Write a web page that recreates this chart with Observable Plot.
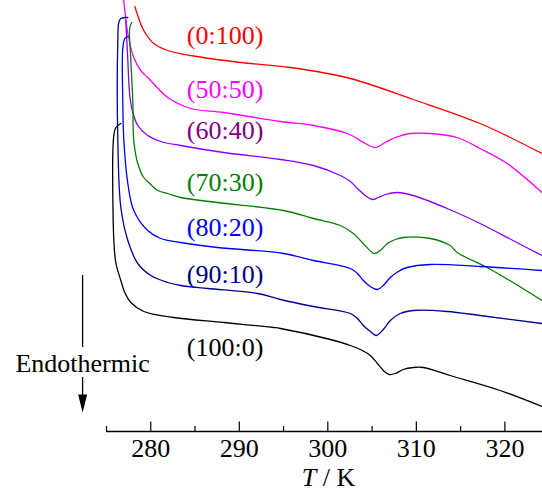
<!DOCTYPE html>
<html><head><meta charset="utf-8">
<script src="https://cdn.jsdelivr.net/npm/d3@7"></script>
<script src="https://cdn.jsdelivr.net/npm/@observablehq/plot@0.6"></script>
<style>body{margin:0;background:#fff;} #chart{width:542px;height:492px;overflow:hidden} #chart svg text{font-family:"Liberation Serif",serif;}</style>
</head><body><div id="chart"></div>
<script>
// DSC traces: [T (K), heat flow (a.u., offset)]
const curve_0_100 = [[278.20,42.5],[278.53,41.6],[279.21,40.1],[280.34,38.8],[281.92,38.1],[284.51,37.6],[290.15,36.9],[295.78,36.4],[302.55,35.3],[309.65,33.2],[317.20,30.8],[324.19,27.8]];
const curve_50_50 = [[276.84,44.1],[277.07,42.1],[277.41,39.8],[278.08,37.4],[278.87,36.1],[279.66,35.4],[281.92,33.4],[284.51,32.3],[288.23,31.9],[294.66,31.0],[298.38,30.6],[302.21,29.8],[303.11,29.4],[304.24,28.8],[305.37,28.4],[306.49,28.9],[307.62,29.4],[309.31,29.8],[311.57,29.8],[314.61,29.4],[317.20,28.3],[320.25,26.8],[324.19,23.9]];
const curve_60_40 = [[277.18,41.1],[277.41,37.1],[277.63,33.6],[277.97,31.9],[278.53,30.6],[279.66,29.6],[281.13,29.0],[283.38,28.6],[288.23,27.9],[294.66,27.2],[298.38,26.6],[301.42,25.6],[302.55,25.0],[303.34,24.3],[304.24,23.6],[305.03,23.2],[305.70,23.4],[306.49,23.7],[307.85,23.9],[309.65,23.6],[313.48,22.3],[317.20,20.8],[320.92,19.1],[324.19,17.6]];
const curve_70_30 = [[277.86,40.9],[277.63,40.4],[277.75,37.1],[277.97,33.1],[278.08,29.1],[278.53,26.8],[279.21,25.4],[280.00,24.7],[280.79,24.1],[281.92,23.8],[283.38,23.4],[287.55,22.9],[295.00,22.1],[298.38,21.3],[301.42,20.6],[302.89,19.8],[303.90,18.9],[305.25,17.8],[305.93,18.1],[306.72,18.8],[307.62,19.2],[308.52,19.4],[311.57,19.3],[313.82,18.6],[314.61,17.9],[317.99,16.4],[320.92,14.9],[324.19,13.1]];
const curve_80_20 = [[277.41,39.5],[277.07,39.3],[276.84,38.3],[276.84,33.1],[276.96,29.1],[277.41,24.8],[278.08,22.1],[279.66,20.1],[281.13,19.3],[283.38,18.9],[287.55,18.4],[295.00,17.8],[298.38,17.1],[302.55,16.3],[303.34,15.8],[304.01,15.1],[304.80,14.5],[305.59,14.2],[306.27,14.6],[307.06,15.4],[307.96,16.0],[308.97,16.4],[311.57,16.7],[317.20,16.5],[324.19,16.1]];
const curve_90_10 = [[277.41,41.4],[276.62,41.3],[276.39,40.9],[276.28,39.1],[276.28,29.1],[276.62,22.4],[277.41,19.1],[278.53,16.8],[280.00,15.6],[281.92,14.9],[283.38,14.6],[286.43,14.3],[292.06,13.8],[294.66,13.2],[298.38,12.5],[302.55,11.8],[303.34,11.3],[304.01,10.6],[304.80,10.0],[305.48,9.6],[306.27,10.2],[307.06,11.1],[308.18,11.8],[309.65,12.1],[313.48,12.0],[317.20,11.6],[324.19,10.8]];
const curve_100_0 = [[276.62,30.8],[276.05,30.4],[275.83,29.6],[275.72,28.1],[275.72,23.1],[275.83,19.1],[276.05,16.9],[276.62,15.1],[277.07,13.9],[277.75,12.9],[279.21,12.0],[282.59,11.4],[288.23,10.9],[293.87,10.4],[294.66,10.3],[300.29,9.2],[302.55,8.6],[303.90,8.1],[304.80,7.6],[305.70,6.7],[306.38,6.0],[306.94,5.7],[307.62,5.8],[308.52,6.2],[309.65,6.4],[310.78,6.4],[313.82,5.6],[319.46,4.1],[324.19,2.5]];

const seriesNames  = ["(0:100)","(50:50)","(60:40)","(70:30)","(80:20)","(90:10)","(100:0)"];
const seriesCurves = [curve_0_100, curve_50_50, curve_60_40, curve_70_30, curve_80_20, curve_90_10, curve_100_0];
const lineColors   = ["#ff0000","#ff00ff","#8a00ff","#008000","#0000ff","#00009a","#000000"];
const labelColors  = ["#ff0000","#ff00ff","#800080","#008000","#0000ff","#000080","#000000"];
const labelT = [288.4,288.4,288.4,288.4,288.4,288.4,288.4];
const labelQ = [39.6,34.2,30.1,24.9,20.4,15.7,8.4];

const majorTicks = [280,290,300,310,320];
const minorTicks = [275,285,295,305,315];

const endoText = [{T: 272.3, q: 6.8, text: "Endothermic"}];
const endoShaft = [{T: 272.3, q1: 15.6, q2: 8.4}, {T: 272.3, q1: 5.4, q2: 3.0}];
const endoHead = [{T: 272.3, q: 2.7}];

const rows = [];
seriesCurves.forEach((c, i) => c.forEach(([T, q]) => rows.push({series: seriesNames[i], color: lineColors[i], T, q})));
const labels = seriesNames.map((name, i) => ({name, color: labelColors[i], T: labelT[i], q: labelQ[i]}));

const headSymbol = {draw(ctx) { ctx.moveTo(-4.5, -10); ctx.lineTo(4.5, -10); ctx.lineTo(0, 8); ctx.closePath(); }};
const serif = "Liberation Serif";

const chart = Plot.plot({
  width: 542, height: 492,
  marginLeft: 106, marginRight: 0, marginTop: 0, marginBottom: 61,
  style: {fontFamily: serif, fontSize: "26px", background: "white", color: "black"},
  x: {domain: [275, 324.25], axis: null},
  y: {domain: [0, 43.1], axis: null},
  color: {type: "identity"},
  marks: [
    Plot.line(rows, {x: "T", y: "q", z: "series", stroke: "color", strokeWidth: 1.3, curve: "catmull-rom", clip: true}),
    Plot.ruleY([0], {stroke: "black", strokeWidth: 1.3}),
    Plot.ruleX(majorTicks, {x: d => d, y1: 0, y2: 0, insetTop: -9.5, stroke: "black", strokeWidth: 1.2}),
    Plot.ruleX(minorTicks, {x: d => d, y1: 0, y2: 0, insetTop: -5, stroke: "black", strokeWidth: 1.2}),
    Plot.text(majorTicks, {x: d => d, y: 0, dy: 17.4, text: d => String(d), fill: "black", fontFamily: serif, fontSize: 26}),
    Plot.text(["T / K"], {frameAnchor: "bottom", lineAnchor: "middle", dy: 46.5, dx: 4, text: d => d, fill: "black", fontFamily: serif, fontSize: 26}),
    Plot.text(labels, {x: "T", y: "q", text: "name", fill: "color", fontFamily: serif, fontSize: 26}),
    Plot.text(endoText, {x: "T", y: "q", text: "text", fill: "black", fontFamily: serif, fontSize: 26}),
    Plot.ruleX(endoShaft, {x: "T", y1: "q1", y2: "q2", stroke: "black", strokeWidth: 1.3}),
    Plot.dot(endoHead, {x: "T", y: "q", symbol: headSymbol, fill: "black", stroke: "none"})
  ]
});
chart.querySelectorAll("text").forEach(t => {
  if (t.textContent === "T / K") {
    t.textContent = "";
    const ns = "http://www.w3.org/2000/svg";
    const a = document.createElementNS(ns, "tspan"); a.setAttribute("font-style", "italic"); a.textContent = "T";
    const b = document.createElementNS(ns, "tspan"); b.textContent = " / K";
    t.appendChild(a); t.appendChild(b);
  }
});
document.getElementById("chart").appendChild(chart);
</script>
</body></html>
